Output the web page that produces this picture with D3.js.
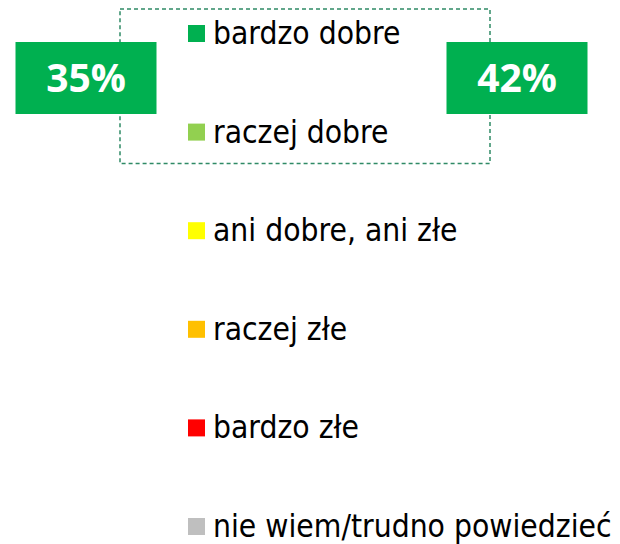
<!DOCTYPE html>
<html>
<head>
<meta charset="utf-8">
<script src="https://cdn.jsdelivr.net/npm/d3@7"></script>
<style>
  html, body { margin: 0; padding: 0; background: #fff; overflow: hidden; }
  svg { display: block; }
  .leg { font-family: 'DejaVu Sans Condensed', 'DejaVu Sans', sans-serif; font-stretch: condensed; font-size: 31.5px; fill: #000; }
  .callout { font-family: 'Open Sans', 'DejaVu Sans', sans-serif; font-weight: 700; font-size: 39px; fill: #fff; }
</style>
</head>
<body>
<script>
const categories = ["bardzo dobre", "raczej dobre", "ani dobre, ani złe", "raczej złe", "bardzo złe", "nie wiem/trudno powiedzieć"];
const colors = ["#00B050", "#92D050", "#FFFF00", "#FFC000", "#FF0000", "#BFBFBF"];
const calloutKeys = ["left", "right"];
const calloutValues = [35, 42];

const W = 620, H = 544;
const svg = d3.select("body").append("svg").attr("width", W).attr("height", H);

const y = d3.scalePoint().domain(categories).range([25, 518]);
const color = d3.scaleOrdinal().domain(categories).range(colors);
const xc = d3.scalePoint().domain(calloutKeys).range([86, 517]);

// dashed frame around the positive categories
const posTop = y(categories[0]) - 16;
const posBottom = y(categories[1]) + 40;
svg.append("rect")
  .attr("x", 120).attr("y", posTop)
  .attr("width", 370).attr("height", posBottom - posTop)
  .attr("fill", "none")
  .attr("stroke", "#2F8A66")
  .attr("stroke-width", 1.5)
  .attr("stroke-dasharray", "4,3");

// legend
const items = svg.append("g").selectAll("g").data(categories).join("g")
  .attr("transform", d => `translate(188,${y(d)})`);
items.append("rect").attr("width", 17).attr("height", 17).attr("fill", d => color(d));
items.append("text").attr("class", "leg").attr("x", 25).attr("y", 19).text(d => d);

// callout boxes
const boxW = 141, boxH = 72, boxY = 42;
const cg = svg.append("g").selectAll("g").data(calloutKeys).join("g")
  .attr("transform", d => `translate(${xc(d)},${boxY})`);
cg.append("rect").attr("x", -boxW / 2).attr("width", boxW).attr("height", boxH).attr("fill", "#00B050");
cg.append("text").attr("class", "callout")
  .attr("text-anchor", "middle").attr("x", 0).attr("y", boxH / 2 + 14)
  .text((d, i) => calloutValues[i] + "%");
</script>
</body>
</html>
